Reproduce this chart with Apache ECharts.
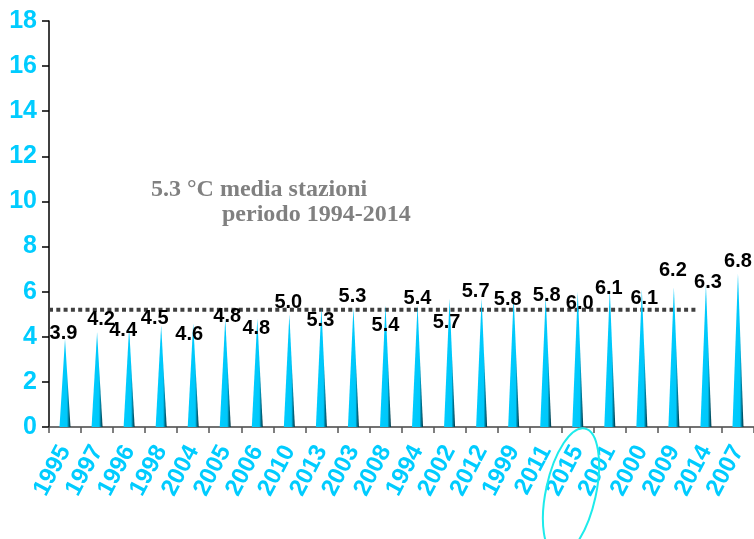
<!DOCTYPE html>
<html>
<head>
<meta charset="utf-8">
<script src="https://cdn.jsdelivr.net/npm/echarts@6/dist/echarts.min.js"></script>
<style>html,body{margin:0;padding:0;background:#fff;}#c{width:754px;height:539px;}</style>
</head>
<body>
<div id="c"></div>
<script>
// ---- data ----
var categories = ['1995','1997','1996','1998','2004','2005','2006','2010','2013','2003','2008','1994','2002','2012','1999','2011','2015','2001','2000','2009','2014','2007'];
var values = [3.9,4.2,4.4,4.5,4.6,4.8,4.8,5.0,5.3,5.3,5.4,5.4,5.7,5.7,5.8,5.8,6.0,6.1,6.1,6.2,6.3,6.8];
var meanValue = 5.2;          // dotted reference line
var meanLineEnd = 20.2;       // reference line ends (in category units)
var yTicks = [0,2,4,6,8,10,12,14,16,18];

// label placement (style only)
var labelDx = [-1.5,4,-6,-6.5,-4,2,-1,-1,-1,-1,0,0,-3,-6,-6,1,2,-1,2.5,-1,2,0];
var labelDy = [-6,-13,3,-7,11,-2,10,-11.5,13,-11,20.5,-6.5,24,-7,3,-1,12,-1,9,-17,-2.5,-12];

var chart = echarts.init(document.getElementById('c'));
var cyan = '#00CCFF';

var barData = values.map(function(v,i){
  return {value:v, label:{offset:[labelDx[i], labelDy[i]]}};
});

chart.setOption({
  animation:false,
  backgroundColor:'#ffffff',
  grid:{left:49, top:21, width:707, height:406, containLabel:false},
  xAxis:[{
    type:'category', data:categories, boundaryGap:true,
    axisLine:{show:true, lineStyle:{color:'#444', width:1.5}},
    axisTick:{show:true, length:6, lineStyle:{color:'#555', width:1.5}},
    axisLabel:{color:cyan, fontSize:24, fontWeight:'bold', fontFamily:'Liberation Sans, Arial, sans-serif', rotate:62, margin:20, interval:0},
    splitLine:{show:false}
  },{
    type:'value', min:0, max:categories.length, show:false
  }],
  yAxis:{
    type:'value', min:yTicks[0], max:yTicks[yTicks.length-1], interval:2,
    axisLine:{show:true, lineStyle:{color:'#000', width:1.5}},
    axisTick:{show:true, length:7, lineStyle:{color:'#000', width:1.5}},
    axisLabel:{color:cyan, fontSize:25, fontWeight:'bold', fontFamily:'Liberation Sans, Arial, sans-serif', margin:12},
    splitLine:{show:false}
  },
  series:[{
    type:'pictorialBar',
    xAxisIndex:0,
    symbol:'triangle',
    symbolSize:[11,'100%'],
    data:barData,
    itemStyle:{
      color:new echarts.graphic.LinearGradient(0,0,1,0,[
        {offset:0, color:'#00CCFF'},
        {offset:0.68, color:'#00C8FA'},
        {offset:0.8, color:'#0088AA'},
        {offset:1, color:'#00303C'}
      ])
    },
    label:{show:true, position:'top', distance:0, align:'center', verticalAlign:'middle',
      color:'#000', fontSize:20, fontWeight:'bold', fontFamily:'Liberation Sans, Arial, sans-serif',
      formatter:function(p){return p.value.toFixed(1);}},
    z:3
  },{
    type:'line',
    xAxisIndex:1,
    data:[[0,meanValue],[meanLineEnd,meanValue]],
    symbol:'none',
    lineStyle:{color:'#404040', width:4, type:[4,3.3]},
    z:2
  }],
  graphic:[
    {type:'text', left:151, top:178, style:{text:'5.3 °C media stazioni', fill:'#808080', font:'bold 24px "Liberation Serif", "Times New Roman", serif'}},
    {type:'text', left:222, top:203, style:{text:'periodo 1994-2014', fill:'#808080', font:'bold 24px "Liberation Serif", "Times New Roman", serif'}},
    {type:'ellipse', x:571, y:492, rotation:-0.215, shape:{cx:0, cy:0, rx:25, ry:65}, style:{fill:'none', stroke:'#1EEBEB', lineWidth:2}, z:10}
  ]
});
</script>
</body>
</html>
